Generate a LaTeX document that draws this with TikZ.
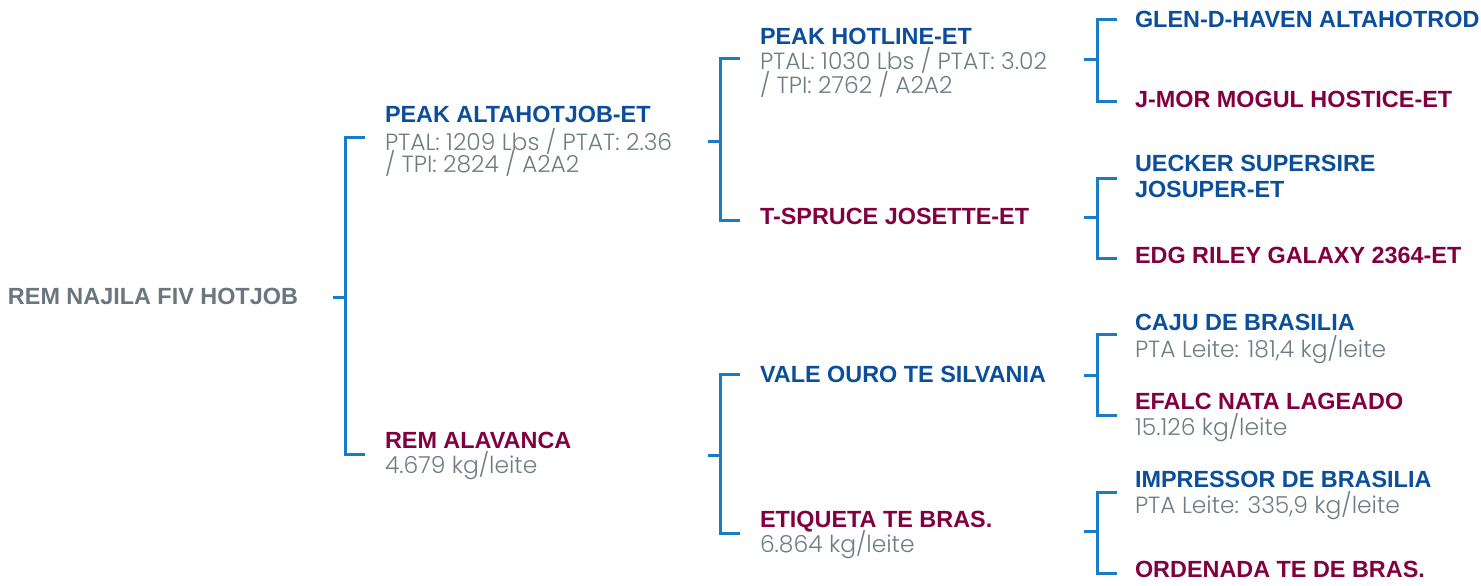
\documentclass[tikz,border=0pt]{standalone}
\usepackage{fontspec}
\setmainfont{Liberation Sans}
\newfontfamily\popfont{Poppins Light}
\definecolor{brblue}{HTML}{1A7CC6}
\definecolor{nmblue}{HTML}{0B4E9B}
\definecolor{nmred}{HTML}{82003F}
\definecolor{nmgray}{HTML}{69767D}
\definecolor{txgray}{HTML}{707C83}
\tikzset{
  br/.style={draw=brblue, line width=3pt},
  base/.style={anchor=base west, inner sep=0pt, outer sep=0pt},
  sire/.style={base, font=\fontsize{23.4}{26}\bfseries, text=nmblue},
  dam/.style={base, font=\fontsize{23.4}{26}\bfseries, text=nmred},
  rootname/.style={base, font=\fontsize{23.4}{26}\bfseries, text=nmgray},
  info/.style={base, font=\popfont\fontsize{23.4}{25}\selectfont, text=txgray},
}
\begin{document}
\begin{tikzpicture}[x=1pt,y=-1pt]
\useasboundingbox (0,0) rectangle (1481,586);
% root
\node[rootname] (root) at (8,304) {REM NAJILA FIV HOTJOB};
% gen 1
\node[sire] (s) at (385,122) {PEAK ALTAHOTJOB-ET};
\node[info] (si1) at (385,150) {PTAL: 1209 Lbs / PTAT: 2.36};
\node[info] (si2) at (385,172) {/ TPI: 2824 / A2A2};
\node[dam] (d) at (385,448) {REM ALAVANCA};
\node[info] (di1) at (385,473) {4.679 kg/leite};
% gen 2
\node[sire] (ss) at (760,45) {PEAK HOTLINE-ET};
\node[info] (ssi1) at (760,70) {PTAL: 1030 Lbs / PTAT: 3.02};
\node[info] (ssi2) at (760,94) {/ TPI: 2762 / A2A2};
\node[dam] (sd) at (760,224) {T-SPRUCE JOSETTE-ET};
\node[sire] (ds) at (760,382) {VALE OURO TE SILVANIA};
\node[dam] (dd) at (760,527) {ETIQUETA TE BRAS.};
\node[info] (ddi1) at (760,552) {6.864 kg/leite};
% gen 3
\node[sire] (sss) at (1135,28) {GLEN-D-HAVEN ALTAHOTROD};
\node[dam] (ssd) at (1135,107) {J-MOR MOGUL HOSTICE-ET};
\node[sire] (sds1) at (1135,171) {UECKER SUPERSIRE};
\node[sire] (sds2) at (1135,197) {JOSUPER-ET};
\node[dam] (sdd) at (1135,263) {EDG RILEY GALAXY 2364-ET};
\node[sire] (dss) at (1135,330) {CAJU DE BRASILIA};
\node[info] (dssi) at (1135,357) {PTA Leite: 181,4 kg/leite};
\node[dam] (dsd) at (1135,409) {EFALC NATA LAGEADO};
\node[info] (dsdi) at (1135,435) {15.126 kg/leite};
\node[sire] (dds) at (1135,487) {IMPRESSOR DE BRASILIA};
\node[info] (ddsi) at (1135,513) {PTA Leite: 335,9 kg/leite};
\node[dam] (ddd) at (1135,577) {ORDENADA TE DE BRAS.};
% bracket coordinates: stub start, junction, top end, bottom end
\coordinate (a0) at (333,297); \coordinate (j0) at (345,297);
\coordinate (t0) at (365,137); \coordinate (b0) at (365,454);
\coordinate (a1) at (708,141); \coordinate (j1) at (720,141);
\coordinate (t1) at (740,59);  \coordinate (b1) at (740,220);
\coordinate (a2) at (708,455); \coordinate (j2) at (720,455);
\coordinate (t2) at (740,374); \coordinate (b2) at (740,533);
\coordinate (a3) at (1084,60); \coordinate (j3) at (1097,60);
\coordinate (t3) at (1117,20); \coordinate (b3) at (1117,101);
\coordinate (a4) at (1084,217); \coordinate (j4) at (1097,217);
\coordinate (t4) at (1117,178); \coordinate (b4) at (1117,258);
\coordinate (a5) at (1084,375); \coordinate (j5) at (1097,375);
\coordinate (t5) at (1117,334); \coordinate (b5) at (1117,415);
\coordinate (a6) at (1084,531); \coordinate (j6) at (1097,531);
\coordinate (t6) at (1117,492); \coordinate (b6) at (1117,573);
\foreach \i in {0,...,6}{
  \draw[br] (a\i) -- (j\i);
  \draw[br] (t\i) -| (j\i) |- (b\i);
}
\end{tikzpicture}
\end{document}
